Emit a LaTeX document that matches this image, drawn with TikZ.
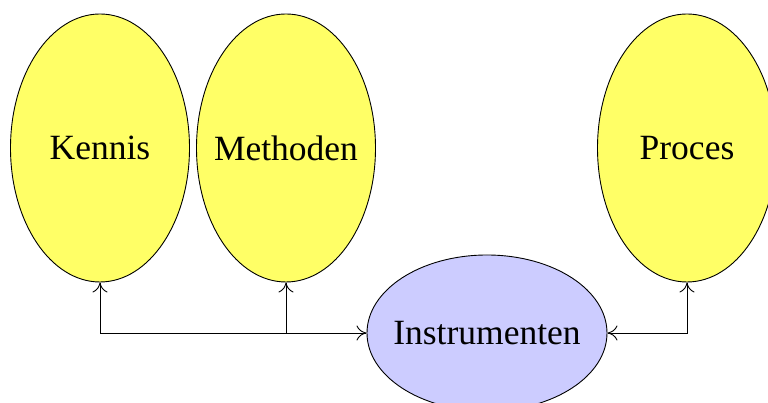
\documentclass[tikz,border=0pt]{standalone}
\usepackage{fontspec}
\setmainfont{Liberation Serif}
\usetikzlibrary{arrows.meta,positioning,shapes.geometric,calc}
\definecolor{SoftYellow}{RGB}{255,255,102}
\definecolor{SoftBlue}{RGB}{204,204,255}
\tikzset{
  topic/.style={ellipse,draw=black,fill=SoftYellow,line width=0.9pt,inner ysep=0pt,
    inner xsep=-14pt,minimum width=179pt,minimum height=268pt,align=center},
  tool/.style={ellipse,draw=black,fill=SoftBlue,line width=0.9pt,inner ysep=0pt,
    inner xsep=-14pt,minimum width=240pt,minimum height=156pt,align=center},
  link/.style={line width=0.9pt,black},
  >={To[length=10pt,width=15pt]}
}

\begin{document}
\begin{tikzpicture}[x=1pt,y=1pt,font=\fontsize{35.5}{40}\selectfont]
\useasboundingbox (0,0) rectangle (768,403);

\node[topic] (kennis) at (100,255) {Kennis};
\node[topic] (methoden) at (286,255) {Methoden};
\node[topic] (proces) at (687,255) {Proces};
\node[tool] (instr) at (487,70) {Instrumenten};

\draw[link,<->] (kennis.south) |- (instr.west);
\draw[link,->] (methoden.south |- instr.west) -- (methoden.south);
\draw[link,<->] (instr.east) -| (proces.south);

\end{tikzpicture}
\end{document}
